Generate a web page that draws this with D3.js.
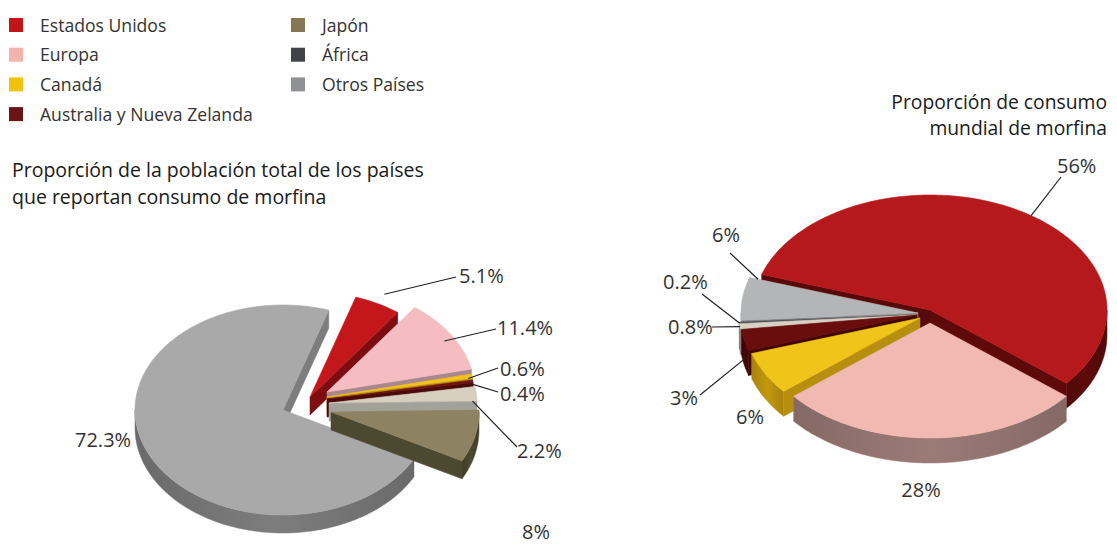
<!DOCTYPE html>
<html>
<head>
<meta charset="utf-8">
<script src="https://cdn.jsdelivr.net/npm/d3@7"></script>
<style>
  body { margin: 0; background: #fff; }
  text { font-family: "Open Sans", sans-serif; }
</style>
</head>
<body>
<svg id="chart" width="1117" height="550"></svg>
<script>
// categories, in the order the slices are laid out (clockwise)
var categories = ["Estados Unidos", "Europa", "Canadá", "Australia y Nueva Zelanda", "Japón", "África", "Otros Países"];
var legendColors = ["#c0161a", "#f4b4ae", "#f0c30f", "#6b1416", "#857753", "#3f4246", "#8f9194"];

// % of population of reporting countries
var poblacion = [5.1, 11.4, 0.6, 0.4, 2.2, 8, 72.3];
// % of world morphine consumption
var consumo = [56, 28, 6, 3, 0.8, 0.2, 6];

var titlePoblacion = ["Proporción de la población total de los países", "que reportan consumo de morfina"];
var titleConsumo = ["Proporción de consumo", "mundial de morfina"];

/****** look of the two pies ******/
var deg = Math.PI / 180;
var leftPie = {
    cx: 283, cy: 410, rx: 148, ry: 105, depth: 18, start: 18 * deg,
    top:  ["#c4171b", "#f5bcc2", "#f2c21a", "#6e1214", "#d6cfc0", "#8d8262", "#a9a9a9"],
    side: ["#7c0d10", "#a8888e", "#b8900e", "#4a0a0a", "#a3a29a", "#4d4830", "#7d7d7d"],
    offset: [[27, -13], [44, -18], [44, -13], [44, -11], [46, -7], [48, 2], [0, 0]],
    // [angle fraction, radius factor, y shift] for leader start, leader end, label pos
    labels: [
        {at: [0.5, 1.1, 0], end: [456, 277], x: 459, y: 276, anchor: "start"},
        {at: [0.54, 0.93, 0], end: [496, 329], x: 497, y: 328, anchor: "start"},
        {at: [1, 0.97, 0], end: [498, 368], x: 500, y: 369, anchor: "start"},
        {at: [1, 0.97, 0], end: [498, 392], x: 500, y: 394, anchor: "start"},
        {at: [1, 0.97, 0], end: [517, 447], x: 517, y: 451, anchor: "start"},
        {x: 522, y: 532, anchor: "start"},
        {x: 75, y: 440, anchor: "start"}
    ]
};
var rightPie = {
    cx: 920, cy: 315, rx: 177, ry: 115, depth: 25, start: -72 * deg,
    top:  ["#b5191b", "#f1b9b1", "#f0c51a", "#6a0d0d", "#d8d0c4", "#4a4c50", "#b3b5b7"],
    side: ["#5e0a0a", "#9c7b77", "#c4980f", "#470606", "#a39c92", "#333538", "#8a8c8e"],
    offset: [[10, -5], [10, 8], [0, 3], [-3, 0], [-4, 0], [-4, 0], [-2, -2]],
    labels: [
        {at: [0.53, 1.0, 0], end: [1061, 177], x: 1057, y: 166, anchor: "start"},
        {x: 921, y: 490, anchor: "middle"},
        {x: 750, y: 417, anchor: "middle"},
        {at: [0.1, 1.02, 10], end: [700, 395], x: 670, y: 398, anchor: "start"},
        {at: [0.5, 1.0, 0], end: [712, 327], x: 668, y: 327, anchor: "start"},
        {at: [0.5, 1.0, 0], end: [702, 294], x: 663, y: 282, anchor: "start"},
        {at: [1, 0.95, 0], end: [730, 253], x: 726, y: 235, anchor: "middle"}
    ]
};

var svg = d3.select("#chart");
var defs = svg.append("defs");
var gradCount = 0;

/****** legend ******/
var legend = svg.append("g");
categories.forEach(function (c, i) {
    var col = i < 4 ? 0 : 1;
    var row = i < 4 ? i : i - 4;
    var gx = col ? 291 : 9;
    var gy = 18 + row * 29.7;
    legend.append("rect").attr("x", gx).attr("y", gy).attr("width", 14).attr("height", 14)
        .style("fill", legendColors[i]);
    legend.append("text").attr("x", gx + 31).attr("y", gy + 13.5)
        .style("font-size", "17.6px").style("fill", "#333").text(c);
});

/****** titles ******/
svg.append("g").selectAll("text").data(titlePoblacion).enter().append("text")
    .attr("x", 12).attr("y", function (d, i) { return 177 + i * 27; })
    .style("font-size", "19.5px").style("fill", "#1a1a1a").text(function (d) { return d; });
svg.append("g").selectAll("text").data(titleConsumo).enter().append("text")
    .attr("x", 1107).attr("y", function (d, i) { return 109 + i * 26; })
    .attr("text-anchor", "end")
    .style("font-size", "19.3px").style("fill", "#1a1a1a").text(function (d) { return d; });

/****** 3d pie ******/
function rim(c, a, cfg, k, dy) {
    k = k || 1;
    return [c[0] + cfg.rx * k * Math.sin(a), c[1] - cfg.ry * k * Math.cos(a) + (dy || 0)];
}
function arcPts(c, a0, a1, cfg, dy) {
    var n = Math.max(2, Math.ceil((a1 - a0) / deg));
    return d3.range(n + 1).map(function (j) { return rim(c, a0 + (a1 - a0) * j / n, cfg, 1, dy); });
}
var polygon = d3.line().curve(d3.curveLinearClosed);

function wallGradient(color) {
    var id = "wall" + (gradCount++);
    var base = d3.color(color);
    var gr = defs.append("linearGradient").attr("id", id).attr("x1", 0).attr("x2", 1).attr("y1", 0).attr("y2", 0);
    gr.append("stop").attr("offset", 0).attr("stop-color", base.darker(0.45));
    gr.append("stop").attr("offset", 0.5).attr("stop-color", base);
    gr.append("stop").attr("offset", 1).attr("stop-color", base.darker(0.45));
    return "url(#" + id + ")";
}

function drawPie(values, cfg) {
    var total = d3.sum(values);
    var pie = d3.pie().sort(null).value(function (d) { return d; })
        .startAngle(cfg.start).endAngle(cfg.start + 2 * Math.PI);
    var arcs = pie(values);
    arcs.forEach(function (a, i) {
        a.i = i;
        a.c = [cfg.cx + cfg.offset[i][0], cfg.cy + cfg.offset[i][1]];
        var mid = (a.startAngle + a.endAngle) / 2;
        a.key = a.value / total > 0.5 ? -1e9 : a.c[1] - cfg.ry * Math.cos(mid) * 0.6;
    });
    var g = svg.append("g");
    var d = cfg.depth;
    arcs.slice().sort(function (p, q) { return p.key - q.key; }).forEach(function (a) {
        var s = g.append("g");
        var a0 = a.startAngle, a1 = a.endAngle, c = a.c;
        var side = cfg.side[a.i], top = cfg.top[a.i];
        var cb = [c[0], c[1] + d];
        if (Math.sin(a0) < 0) {
            var p0 = rim(c, a0, cfg);
            s.append("path").attr("d", polygon([c, p0, [p0[0], p0[1] + d], cb]))
                .style("fill", d3.color(side).darker(0.2)).style("stroke", d3.color(side).darker(0.2)).style("stroke-width", 0.5);
        }
        if (Math.sin(a1) > 0) {
            var p1 = rim(c, a1, cfg);
            s.append("path").attr("d", polygon([c, p1, [p1[0], p1[1] + d], cb]))
                .style("fill", side).style("stroke", side).style("stroke-width", 0.5);
        }
        for (var k = -1; k <= 2; k++) {
            var lo = Math.max(a0, Math.PI / 2 + 2 * Math.PI * k);
            var hi = Math.min(a1, 3 * Math.PI / 2 + 2 * Math.PI * k);
            if (lo < hi) {
                var pts = arcPts(c, lo, hi, cfg, 0).concat(arcPts(c, lo, hi, cfg, d).reverse());
                s.append("path").attr("d", polygon(pts))
                    .style("fill", wallGradient(side)).style("stroke", side).style("stroke-width", 0.5);
            }
        }
        s.append("path").attr("d", polygon([c].concat(arcPts(c, a0, a1, cfg, 0))))
            .style("fill", top).style("stroke", top).style("stroke-width", 0.6);
    });

    // labels and leader lines
    var lg = svg.append("g");
    arcs.forEach(function (a) {
        var l = cfg.labels[a.i];
        if (l.at) {
            var ang = a.startAngle + (a.endAngle - a.startAngle) * l.at[0];
            var p = rim(a.c, ang, cfg, l.at[1], l.at[2]);
            lg.append("line").attr("x1", p[0]).attr("y1", p[1]).attr("x2", l.end[0]).attr("y2", l.end[1])
                .style("stroke", "#222").style("stroke-width", 1.2);
        }
        lg.append("text").attr("x", l.x).attr("y", l.y).attr("dy", "0.35em")
            .attr("text-anchor", l.anchor)
            .style("font-size", "20px").style("fill", "#333")
            .text(a.value + "%");
    });
}

drawPie(poblacion, leftPie);
drawPie(consumo, rightPie);
</script>
</body>
</html>
